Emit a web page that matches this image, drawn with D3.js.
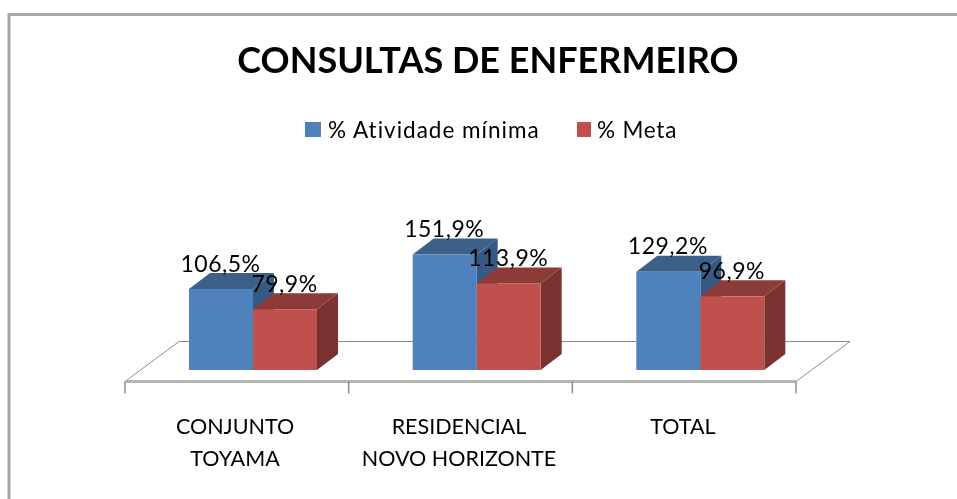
<!DOCTYPE html>
<html>
<head>
<meta charset="utf-8">
<script src="https://cdn.jsdelivr.net/npm/d3@7"></script>
<style>
  html, body { margin: 0; padding: 0; background: #fff; overflow: hidden; }
  svg { display: block; filter: blur(0.4px); }
  text { font-family: Lato, "Open Sans", sans-serif; fill: #000; }
</style>
</head>
<body>
<svg id="chart" width="957" height="499"></svg>
<script>
// chart data
const categories = [['CONJUNTO', 'TOYAMA'], ['RESIDENCIAL', 'NOVO HORIZONTE'], ['TOTAL']];
const seriesNames = ['% Atividade mínima', '% Meta'];
const atividade = [106.5, 151.9, 129.2];
const meta = [79.9, 113.9, 96.9];

const svg = d3.select('#chart');

const COLORS = [
    { front: '#4f81bd', top: '#3d6088', side: '#355a85' },
    { front: '#c0504d', top: '#8c3b39', side: '#79322f' }
];

// floor of the 3d plot
const FLOOR_LEFT = 125, FLOOR_RIGHT = 796, FLOOR_Y = 381.5;
const FLOOR_DX = 54, FLOOR_DY = -40;
const BASE_Y = 370;
const DEPTH_X = 21, DEPTH_Y = -16;

// chart frame, runs off the right and bottom of the picture
svg.append('path')
    .attr('d', 'M9,499V14.5H957')
    .attr('fill', 'none')
    .attr('stroke', '#a6a6a6')
    .attr('stroke-width', 3);

svg.append('text')
    .attr('x', 488).attr('y', 73)
    .attr('text-anchor', 'middle')
    .attr('font-size', 36).attr('font-weight', 700)
    .text('CONSULTAS DE ENFERMEIRO');

// legend
const legend = [{ x: 305, tx: 328 }, { x: 577, tx: 597 }];
seriesNames.forEach((name, i) => {
    svg.append('rect')
        .attr('x', legend[i].x).attr('y', 122)
        .attr('width', i == 0 ? 16 : 14).attr('height', 15)
        .attr('fill', COLORS[i].front);
    svg.append('text')
        .attr('x', legend[i].tx).attr('y', 138)
        .attr('font-size', 22.5)
        .attr('letter-spacing', i == 0 ? 1 : 0.8)
        .text(name);
});

const xScale = d3.scaleBand()
    .domain(d3.range(categories.length))
    .range([FLOOR_LEFT, FLOOR_RIGHT]);

const yScale = d3.scaleLinear()
    .domain([0, 160])
    .range([BASE_Y, BASE_Y - 121.6]);

// floor
svg.append('path')
    .attr('d', `M${FLOOR_LEFT},${FLOOR_Y}L${FLOOR_LEFT + FLOOR_DX},${FLOOR_Y + FLOOR_DY}H${FLOOR_RIGHT + FLOOR_DX}L${FLOOR_RIGHT},${FLOOR_Y}`)
    .attr('fill', 'none')
    .attr('stroke', '#8c8c8c')
    .attr('stroke-width', 1);

// Add the X axis, ticks only, labels are done by hand for the two lines
const axis = svg.append('g')
    .attr('transform', `translate(0,${FLOOR_Y})`);
axis.append('line')
    .attr('x1', FLOOR_LEFT).attr('x2', FLOOR_RIGHT)
    .attr('stroke', '#b5b5b5').attr('stroke-width', 3);
d3.range(categories.length + 1).forEach(i => {
    const x = FLOOR_LEFT + i * xScale.step();
    axis.append('line')
        .attr('x1', x).attr('x2', x)
        .attr('y1', 0).attr('y2', 12)
        .attr('stroke', '#8c8c8c').attr('stroke-width', 1.5);
});

const labelX = [235, 459, 683];
categories.forEach((lines, i) => {
    lines.forEach((line, j) => {
        svg.append('text')
            .attr('x', labelX[i])
            .attr('y', 434 + j * 32)
            .attr('text-anchor', 'middle')
            .attr('font-size', 21.5)
            .text(line);
    });
});

// bars
const barW = 64;
const groupOffset = 64;
const series = [atividade, meta];
const bars = svg.append('g');
series.forEach((values, s) => {
    const c = COLORS[s];
    values.forEach((v, i) => {
        const x0 = xScale(i) + groupOffset + s * barW;
        const x1 = x0 + barW;
        const top = yScale(v);
        const g = bars.append('g');
        g.append('path')
            .attr('d', `M${x1},${BASE_Y}L${x1 + DEPTH_X},${BASE_Y + DEPTH_Y}V${top + DEPTH_Y}L${x1},${top}Z`)
            .attr('fill', c.side);
        g.append('path')
            .attr('d', `M${x0},${top}L${x0 + DEPTH_X},${top + DEPTH_Y}H${x1 + DEPTH_X}L${x1},${top}Z`)
            .attr('fill', c.top);
        g.append('rect')
            .attr('x', x0).attr('y', top)
            .attr('width', barW).attr('height', BASE_Y - top)
            .attr('fill', c.front);
    });
});

// data labels go over all the bars
series.forEach((values, s) => {
    values.forEach((v, i) => {
        const x = xScale(i) + groupOffset + s * barW + barW / 2 - 0.5;
        svg.append('text')
            .attr('x', x)
            .attr('y', yScale(v) - 17.5)
            .attr('text-anchor', 'middle')
            .attr('font-size', 23)
            .attr('letter-spacing', 0.5)
            .text(d3.format('.1f')(v).replace('.', ',') + '%');
    });
});
</script>
</body>
</html>
